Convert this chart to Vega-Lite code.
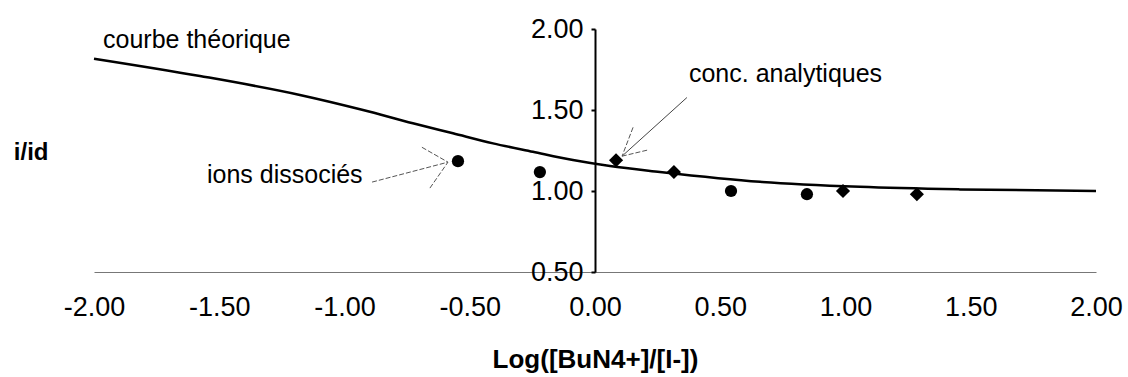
{
  "$schema": "https://vega.github.io/schema/vega-lite/v6.json",
  "width": 1002,
  "height": 243,
  "autosize": "none",
  "padding": {"left": 94, "top": 29, "right": 32, "bottom": 105},
  "background": "white",
  "config": {"view": {"stroke": null}, "font": "Liberation Sans"},
  "datasets": {
    "curve": [
      {"x": -2.0, "y": 1.817},
      {"x": -1.577, "y": 1.71},
      {"x": -1.178, "y": 1.593},
      {"x": -0.926, "y": 1.5},
      {"x": -0.727, "y": 1.418},
      {"x": -0.567, "y": 1.356},
      {"x": -0.407, "y": 1.294},
      {"x": -0.248, "y": 1.242},
      {"x": -0.088, "y": 1.191},
      {"x": 0.06, "y": 1.154},
      {"x": 0.259, "y": 1.118},
      {"x": 0.659, "y": 1.057},
      {"x": 1.058, "y": 1.026},
      {"x": 1.457, "y": 1.01},
      {"x": 2.0, "y": 1.0}
    ],
    "points": [
      {"x": -0.547, "y": 1.184, "serie": "ions dissociés"},
      {"x": -0.22, "y": 1.117, "serie": "ions dissociés"},
      {"x": 0.543, "y": 1.0, "serie": "ions dissociés"},
      {"x": 0.846, "y": 0.98, "serie": "ions dissociés"},
      {"x": 0.084, "y": 1.19, "serie": "conc. analytiques"},
      {"x": 0.315, "y": 1.117, "serie": "conc. analytiques"},
      {"x": 0.99, "y": 1.0, "serie": "conc. analytiques"},
      {"x": 1.285, "y": 0.98, "serie": "conc. analytiques"}
    ],
    "notes": [
      {"x": -1.964, "y": 1.885, "label": "courbe théorique"},
      {"x": -1.549, "y": 1.049, "label": "ions dissociés"},
      {"x": 0.375, "y": 1.675, "label": "conc. analytiques"}
    ],
    "ytitle": [
      {"x": -2.32, "y": 1.19, "label": "i/id"}
    ],
    "solidArrows": [
      {"x": 0.367, "y": 1.577, "x2": 0.108, "y2": 1.215}
    ],
    "dashedArrows": [
      {"x": -0.89, "y": 1.055, "x2": -0.587, "y2": 1.178},
      {"x": -0.691, "y": 1.27, "x2": -0.587, "y2": 1.178},
      {"x": -0.659, "y": 1.018, "x2": -0.587, "y2": 1.178},
      {"x": 0.152, "y": 1.393, "x2": 0.108, "y2": 1.215},
      {"x": 0.208, "y": 1.252, "x2": 0.108, "y2": 1.215}
    ]
  },
  "layer": [
    {
      "data": {"name": "curve"},
      "mark": {"type": "line", "color": "black", "strokeWidth": 2.5, "interpolate": "monotone"},
      "encoding": {
        "x": {
          "field": "x", "type": "quantitative",
          "scale": {"domain": [-2, 2], "nice": false, "zero": false},
          "axis": {
            "values": [-2, -1.5, -1, -0.5, 0, 0.5, 1, 1.5, 2],
            "format": ".2f",
            "labelExpr": "replace(datum.label, '−', '-')",
            "grid": false,
            "domainColor": "#777777",
            "domainWidth": 1,
            "ticks": false,
            "labelFontSize": 27,
            "labelColor": "black",
            "labelPadding": 22,
            "labelFlush": false,
            "labelOverlap": false,
            "title": "Log([BuN4+]/[I-])",
            "titleFontSize": 26,
            "titleFontWeight": "bold",
            "titleColor": "black",
            "titlePadding": 26
          }
        },
        "y": {
          "field": "y", "type": "quantitative",
          "scale": {"domain": [0.5, 2], "nice": false, "zero": false},
          "axis": {
            "values": [0.5, 1, 1.5, 2],
            "format": ".2f",
            "grid": false,
            "domainColor": "black",
            "domainWidth": 2,
            "tickColor": "black",
            "tickSize": 4,
            "tickWidth": 2,
            "labelFontSize": 27,
            "labelColor": "black",
            "labelPadding": 8,
            "labelFlush": false,
            "labelOverlap": false,
            "offset": -501,
            "title": null
          }
        }
      }
    },
    {
      "data": {"name": "solidArrows"},
      "mark": {"type": "rule", "color": "#444444", "strokeWidth": 1},
      "encoding": {
        "x": {"field": "x", "type": "quantitative"},
        "y": {"field": "y", "type": "quantitative"},
        "x2": {"field": "x2"},
        "y2": {"field": "y2"}
      }
    },
    {
      "data": {"name": "dashedArrows"},
      "mark": {"type": "rule", "color": "#555555", "strokeWidth": 1, "strokeDash": [5, 2]},
      "encoding": {
        "x": {"field": "x", "type": "quantitative"},
        "y": {"field": "y", "type": "quantitative"},
        "x2": {"field": "x2"},
        "y2": {"field": "y2"}
      }
    },
    {
      "data": {"name": "points"},
      "mark": {"type": "point", "filled": true, "opacity": 1, "color": "black"},
      "encoding": {
        "x": {"field": "x", "type": "quantitative"},
        "y": {"field": "y", "type": "quantitative"},
        "shape": {
          "field": "serie", "type": "nominal",
          "scale": {"domain": ["ions dissociés", "conc. analytiques"], "range": ["circle", "diamond"]},
          "legend": null
        },
        "size": {
          "field": "serie", "type": "nominal",
          "scale": {"domain": ["ions dissociés", "conc. analytiques"], "range": [150, 200]},
          "legend": null
        }
      }
    },
    {
      "data": {"name": "notes"},
      "mark": {"type": "text", "align": "left", "baseline": "alphabetic", "fontSize": 25, "color": "black"},
      "encoding": {
        "x": {"field": "x", "type": "quantitative"},
        "y": {"field": "y", "type": "quantitative"},
        "text": {"field": "label"}
      }
    },
    {
      "data": {"name": "ytitle"},
      "mark": {"type": "text", "align": "left", "baseline": "alphabetic", "fontSize": 24, "fontWeight": "bold", "color": "black"},
      "encoding": {
        "x": {"field": "x", "type": "quantitative"},
        "y": {"field": "y", "type": "quantitative"},
        "text": {"field": "label"}
      }
    }
  ]
}
